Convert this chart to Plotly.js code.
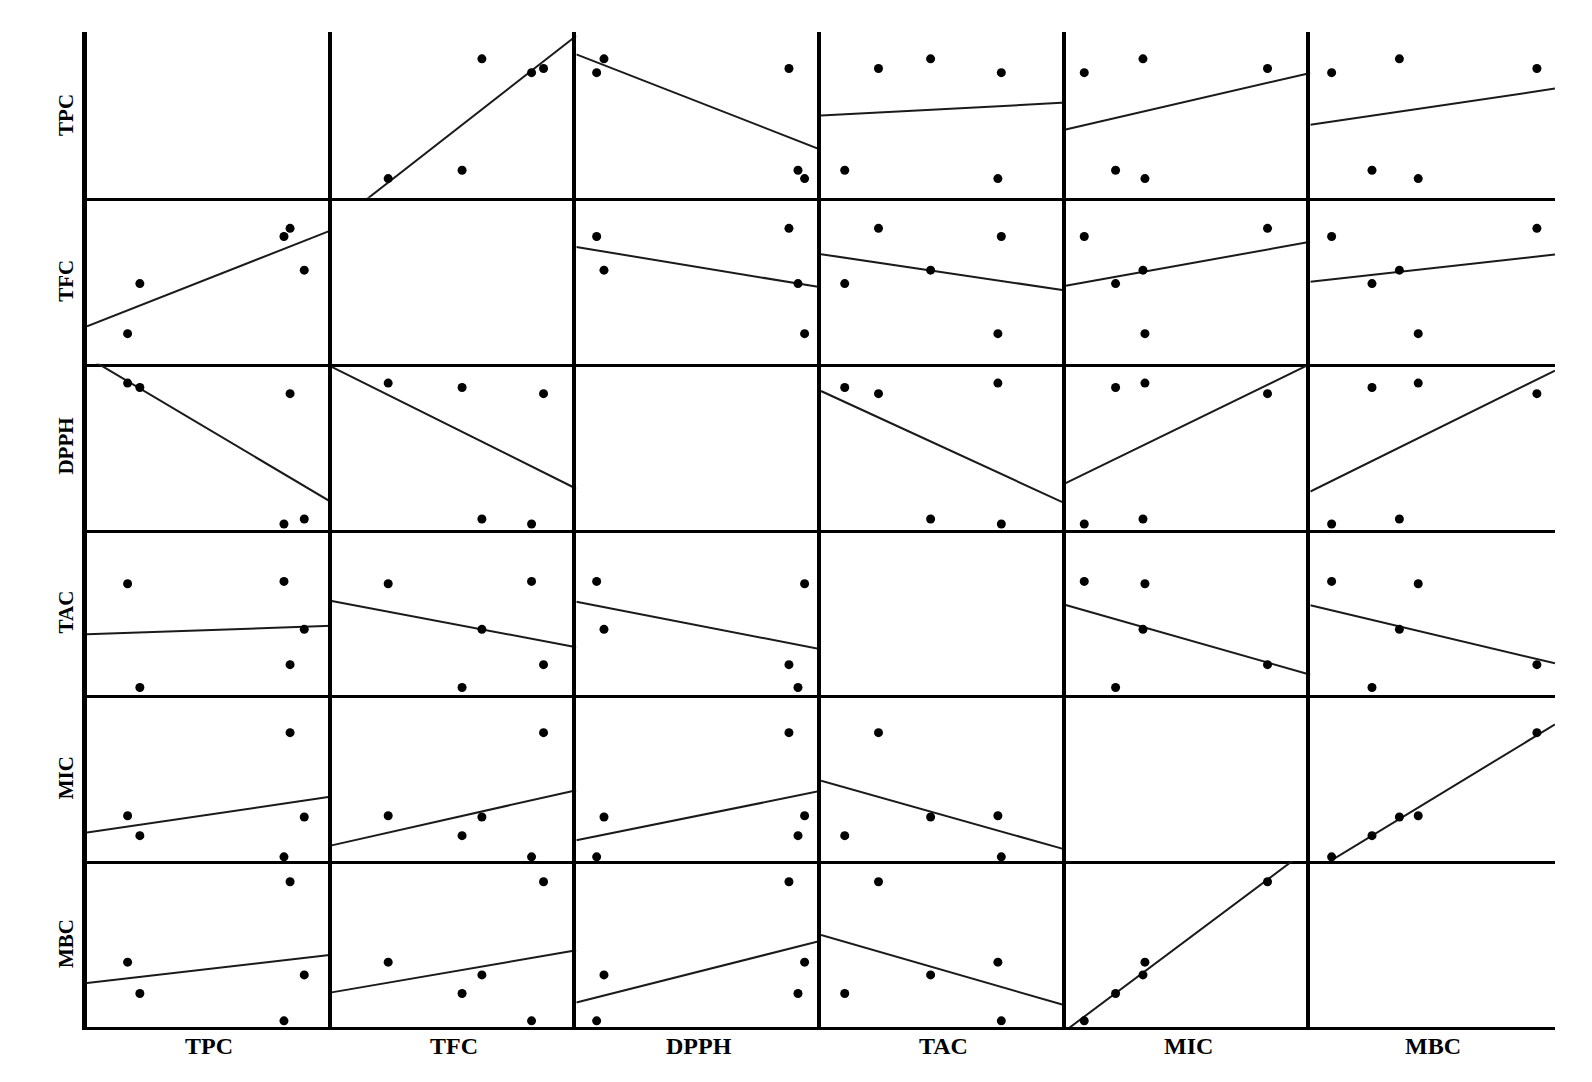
<!DOCTYPE html>
<html>
<head>
<meta charset="utf-8">
<script src="https://cdn.plot.ly/plotly-3.0.1.min.js"></script>
<style>html,body{margin:0;padding:0;background:#fff;}#chart{width:1592px;height:1082px;}</style>
</head>
<body>
<div id="chart"></div>
<script>
// Variables (no tick labels in the source, values on a relative 0-100 scale)
const variables = ["TPC", "TFC", "DPPH", "TAC", "MIC", "MBC"];
// Five samples per variable
const TPC  = [16.6, 21.6, 80.5, 83.0, 88.8];
const TFC  = [23.1, 53.3, 81.7, 86.6, 61.4];
const DPPH = [93.3, 90.6, 8.3, 86.9, 11.3];
const TAC  = [72.3, 9.7, 73.7, 23.5, 44.8];
const MIC  = [32.4, 20.4, 7.6, 82.5, 31.6];
const MBC  = [44.1, 25.2, 8.7, 92.6, 36.4];

const series = [TPC, TFC, DPPH, TAC, MIC, MBC];

const figW = 1592, figH = 1082;
const gridL = 87, gridR = 1555, gridT = 32, gridB = 1027;
const nVar = variables.length;
const cellW = (gridR - gridL) / nVar, cellH = (gridB - gridT) / nVar;

function ols(x, y) {
  const m = x.length;
  const mx = x.reduce((a, b) => a + b, 0) / m;
  const my = y.reduce((a, b) => a + b, 0) / m;
  let sxy = 0, sxx = 0;
  for (let i = 0; i < m; i++) { sxy += (x[i] - mx) * (y[i] - my); sxx += (x[i] - mx) ** 2; }
  const b = sxy / sxx;
  return { a: my - b * mx, b: b };
}

const traces = [];
const layout = {
  width: figW, height: figH,
  margin: { l: 0, r: 0, t: 0, b: 0 },
  paper_bgcolor: "#fff", plot_bgcolor: "#fff",
  showlegend: false,
  annotations: []
};

const xRange = [0, 100], yRange = [5, 105];

for (let r = 0; r < nVar; r++) {
  for (let c = 0; c < nVar; c++) {
    const k = r * nVar + c + 1;
    const xa = "x" + (k === 1 ? "" : k), ya = "y" + (k === 1 ? "" : k);
    const xk = "xaxis" + (k === 1 ? "" : k), yk = "yaxis" + (k === 1 ? "" : k);
    const x0 = gridL + c * cellW, x1 = gridL + (c + 1) * cellW;
    const y0 = gridT + r * cellH, y1 = gridT + (r + 1) * cellH;
    layout[xk] = {
      domain: [x0 / figW, x1 / figW], anchor: ya, range: xRange,
      showline: true, linecolor: "#000", linewidth: 3,
      showticklabels: false, ticks: "", showgrid: false, zeroline: false, fixedrange: true
    };
    layout[yk] = {
      domain: [1 - y1 / figH, 1 - y0 / figH], anchor: xa, range: yRange,
      showline: true, linecolor: "#000", linewidth: c === 0 ? 5 : 4,
      showticklabels: false, ticks: "", showgrid: false, zeroline: false, fixedrange: true
    };
    if (r === c) {
      traces.push({ x: [], y: [], xaxis: xa, yaxis: ya, type: "scatter", mode: "markers" });
      continue;
    }
    const xs = series[c], ys = series[r];
    const fit = ols(xs, ys);
    traces.push({
      x: [xRange[0], xRange[1]], y: [fit.a + fit.b * xRange[0], fit.a + fit.b * xRange[1]],
      xaxis: xa, yaxis: ya, type: "scatter", mode: "lines",
      line: { color: "#1a1a1a", width: 2 }, hoverinfo: "skip"
    });
    traces.push({
      x: xs, y: ys, xaxis: xa, yaxis: ya, type: "scatter", mode: "markers",
      marker: { color: "#000", size: 9, symbol: "circle" }, cliponaxis: false
    });
  }
}

for (let i = 0; i < nVar; i++) {
  layout.annotations.push({
    text: "<b>" + variables[i] + "</b>", xref: "paper", yref: "paper",
    x: 66 / figW, y: 1 - (gridT + (i + 0.5) * cellH) / figH, showarrow: false, textangle: -90,
    xanchor: "center", yanchor: "middle",
    font: { family: "Liberation Serif, Times New Roman, serif", size: 21, color: "#000" }
  });
  layout.annotations.push({
    text: "<b>" + variables[i] + "</b>", xref: "paper", yref: "paper",
    x: (gridL + (i + 0.5) * cellW) / figW, y: 1 - 1046 / figH, showarrow: false,
    xanchor: "center", yanchor: "middle",
    font: { family: "Liberation Serif, Times New Roman, serif", size: 24, color: "#000" }
  });
}

Plotly.newPlot("chart", traces, layout, { staticPlot: true, displayModeBar: false });
</script>
</body>
</html>
